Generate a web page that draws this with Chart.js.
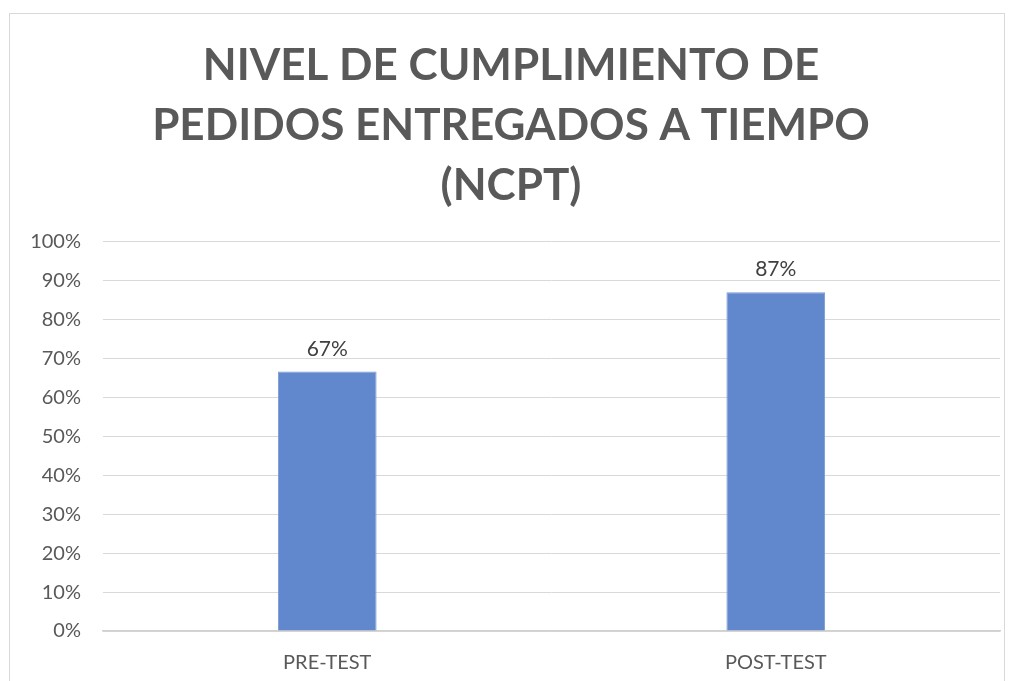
<!DOCTYPE html>
<html>
<head>
<meta charset="utf-8">
<script src="https://cdn.jsdelivr.net/npm/chart.js@4"></script>
<style>
  html, body { margin: 0; padding: 0; background: #fff; }
  #marco { position: absolute; left: 9px; top: 13px; width: 996px; height: 700px; border: 1.5px solid #d9d9d9; box-sizing: border-box; }
  #lienzo { position: absolute; left: 0; top: 0; width: 1015px; height: 681px; }
</style>
</head>
<body>
<div id="marco"></div>
<div id="lienzo"><canvas id="grafico" width="1015" height="681"></canvas></div>
<script>
// datos del grafico
const categorias = ['PRE-TEST', 'POST-TEST'];
const valores = [0.666, 0.87];
const titulo = ['NIVEL DE CUMPLIMIENTO DE', 'PEDIDOS ENTREGADOS A TIEMPO', '(NCPT)'];

const fuente = 'Lato, "Open Sans", sans-serif';

// etiquetas encima de las barras
const etiquetas = {
  id: 'etiquetas',
  afterDatasetsDraw(chart) {
    const ctx = chart.ctx;
    const meta = chart.getDatasetMeta(0);
    ctx.save();
    ctx.font = '21px ' + fuente;
    ctx.fillStyle = '#404040';
    ctx.textAlign = 'center';
    ctx.textBaseline = 'bottom';
    meta.data.forEach((bar, i) => {
      ctx.fillText(Math.round(valores[i] * 100) + '%', bar.x, bar.y - 12);
    });
    ctx.restore();
  }
};

document.addEventListener('DOMContentLoaded', () => {
  const ctx = document.getElementById('grafico').getContext('2d');
  new Chart(ctx, {
    type: 'bar',
    data: {
      labels: categorias,
      datasets: [{
        data: valores,
        backgroundColor: '#6188cc',
        borderColor: '#7a9bd6',
        borderWidth: 1,
        barPercentage: 0.22,
        categoryPercentage: 1
      }]
    },
    options: {
      responsive: false,
      animation: false,
      layout: { padding: { left: 22, right: 15, top: 0, bottom: 0 } },
      plugins: {
        legend: { display: false },
        tooltip: { enabled: false },
        title: {
          display: true,
          text: titulo,
          color: '#595959',
          font: { family: fuente, size: 44, weight: 'bold', lineHeight: 1.36 },
          padding: { top: 36, bottom: 26 }
        }
      },
      scales: {
        x: {
          grid: { display: false, drawTicks: false },
          border: { color: '#d0d0d0', width: 1.5 },
          ticks: { color: '#595959', font: { family: fuente, size: 20 }, padding: 20 },
          afterFit: s => { s.height = 50; }
        },
        y: {
          min: 0,
          max: 1,
          grid: { color: '#d9d9d9', drawTicks: false },
          border: { display: false },
          ticks: {
            stepSize: 0.1,
            color: '#595959',
            font: { family: fuente, size: 20 },
            padding: 22,
            callback: v => Math.round(v * 100) + '%'
          },
          afterFit: s => { s.width = 81; }
        }
      }
    },
    plugins: [etiquetas]
  });
});
</script>
</body>
</html>
